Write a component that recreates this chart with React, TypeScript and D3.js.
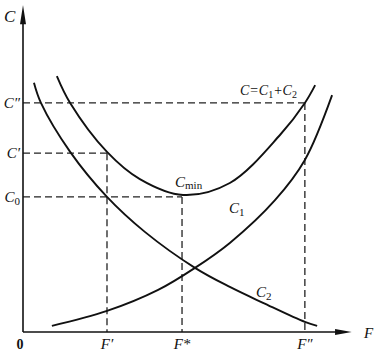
import React from 'react';
import * as d3 from 'd3';

// values (F and C both on a 0..100 schematic scale)
const totalCurve: [number, number][] = [
  [10.2, 79.0], [14.2, 70.7], [25.3, 55.6], [35.2, 47.2], [48.2, 42.3],
  [62.3, 46.0], [77.4, 60.8], [84.9, 70.7], [88.0, 76.2]
];
const c2Curve: [number, number][] = [
  [3.3, 76.9], [5.4, 70.7], [14.2, 55.6], [25.3, 41.7], [36.7, 30.9],
  [51.8, 19.8], [62.3, 13.9], [72.3, 9.0], [84.9, 3.1], [88.6, 1.9]
];
const c1Curve: [number, number][] = [
  [8.7, 1.9], [25.3, 6.5], [40.7, 13.0], [51.8, 19.8], [62.3, 27.5],
  [75.9, 40.7], [84.9, 53.1], [93.1, 73.1]
];

// guide points: [F, C] and their labels
const guideF = [25.3, 47.9, 84.9];
const guideC = [55.2, 41.7, 70.7];
const fLabels = ['F′', 'F*', 'F″'];
const cLabels = ['C′', 'C0', 'C″'];

const W = 380;
const H = 351;

const App = () => {
  const x = d3.scaleLinear().domain([0, 100]).range([23, 355]);
  const y = d3.scaleLinear().domain([0, 100]).range([332, 8]);

  const line = d3.line<[number, number]>()
    .x(d => x(d[0]))
    .y(d => y(d[1]))
    .curve(d3.curveCatmullRom.alpha(0.5));

  const font = { fontFamily: '"Liberation Serif", "DejaVu Serif", serif' };

  return (
    <div style={{ position: 'absolute', left: 0, top: 0 }}>
      <svg width={W} height={H} style={{ display: 'block', background: '#fff', ...font }}>
        {/* dashed guides */}
        {guideF.map((f, i) => (
          <g key={`g-${i}`} stroke="#222" strokeWidth={1.3} strokeDasharray="7,4" fill="none">
            <line x1={x(0)} x2={x(f)} y1={y(guideC[i])} y2={y(guideC[i])} />
            <line x1={x(f)} x2={x(f)} y1={y(guideC[i])} y2={y(0)} />
          </g>
        ))}

        {/* curves */}
        <path d={line(totalCurve) || ''} fill="none" stroke="#111" strokeWidth={1.9} />
        <path d={line(c2Curve) || ''} fill="none" stroke="#111" strokeWidth={1.9} />
        <path d={line(c1Curve) || ''} fill="none" stroke="#111" strokeWidth={1.9} />

        {/* axes */}
        <line x1={x(0)} x2={x(0)} y1={y(0)} y2={y(98)} stroke="#111" strokeWidth={1.6} />
        <line x1={x(0)} x2={x(97)} y1={y(0)} y2={y(0)} stroke="#111" strokeWidth={1.6} />
        <path d={`M${x(0)},${y(100) - 3} L${x(0) - 3},${y(95)} L${x(0) + 3},${y(95)} Z`} fill="#111" />
        <path d={`M${x(99)},${y(0)} L${x(94)},${y(0) - 3} L${x(94)},${y(0) + 3} Z`} fill="#111" />

        {/* axis names */}
        <text x={4} y={22} fontSize={17} fontStyle="italic" fill="#111">C</text>
        <text x={364} y={338} fontSize={15} fontStyle="italic" fill="#111">F</text>
        <text x={x(0) - 3} y={349} fontSize={14} textAnchor="middle" fontWeight="bold" fill="#111">0</text>

        {/* F tick labels */}
        {guideF.map((f, i) => (
          <text key={`f-${i}`} x={x(f)} y={349} fontSize={15} fontStyle="italic" textAnchor="middle" fill="#111">
            {fLabels[i]}
          </text>
        ))}

        {/* C tick labels */}
        {guideC.map((c, i) => (
          <text key={`c-${i}`} x={x(0) - 3} y={y(c) + 5} fontSize={15} fontStyle="italic" textAnchor="end" fill="#111">
            {cLabels[i] === 'C0'
              ? <>C<tspan fontStyle="normal" fontSize={11} dy={3}>0</tspan></>
              : cLabels[i]}
          </text>
        ))}

        {/* curve labels */}
        <text x={175} y={187} fontSize={15} fontStyle="italic" fill="#111">
          C<tspan fontStyle="normal" fontSize={11} dy={2}>min</tspan>
        </text>
        <text x={240} y={95} fontSize={14} fontStyle="italic" fill="#111">
          C=C<tspan fontStyle="normal" fontSize={10} dy={3}>1</tspan>
          <tspan dy={-3}>+C</tspan><tspan fontStyle="normal" fontSize={10} dy={3}>2</tspan>
        </text>
        <text x={229} y={213} fontSize={15} fontStyle="italic" fill="#111">
          C<tspan fontStyle="normal" fontSize={11} dy={3}>1</tspan>
        </text>
        <text x={256} y={297} fontSize={15} fontStyle="italic" fill="#111">
          C<tspan fontStyle="normal" fontSize={11} dy={3}>2</tspan>
        </text>
      </svg>
    </div>
  );
};

export default App;
